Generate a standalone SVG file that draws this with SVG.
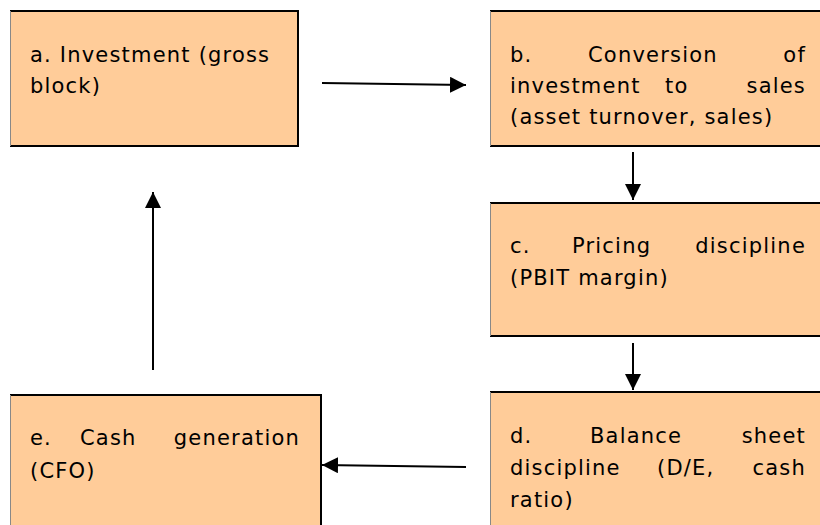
<svg xmlns="http://www.w3.org/2000/svg" width="820" height="525" viewBox="0 0 820 525">
<defs>
<marker id="ah" viewBox="0 0 10 10" refX="10" refY="5" markerWidth="8" markerHeight="8" markerUnits="strokeWidth" orient="auto" preserveAspectRatio="none">
<path d="M0,0 L10,5 L0,10 z" fill="#000"/>
</marker>
</defs>
<style>
.box{fill:#FFCC99;stroke:none}
.edge{fill:none;stroke:#000;stroke-width:2}
.ledge{fill:none;stroke:#888;stroke-width:1}
text{font-family:"DejaVu Sans","Liberation Sans",sans-serif;font-size:21px;letter-spacing:1.2px;fill:#000}
.conn line{stroke:#000;stroke-width:2;marker-end:url(#ah)}
</style>
<rect width="820" height="525" fill="#fff"/>
<g id="node-a">
<rect class="box" x="10" y="11" width="288" height="135"/>
<path class="edge" d="M10,11 H298 V146 H10"/>
<path class="ledge" d="M10.5,11 V146"/>
<text x="30" y="62">a. Investment (gross</text>
<text x="30" y="93">block)</text>
</g>
<g id="node-b">
<rect class="box" x="490" y="11" width="330" height="135"/>
<path class="edge" d="M490,11 H822 M822,146 H490"/>
<path class="ledge" d="M490.5,11 V146"/>
<text x="510" y="62">b.</text>
<text x="588" y="62">Conversion</text>
<text x="806" y="62" text-anchor="end">of</text>
<text x="510" y="93">investment</text>
<text x="665" y="93">to</text>
<text x="806" y="93" text-anchor="end">sales</text>
<text x="510" y="124">(asset turnover, sales)</text>
</g>
<g id="node-c">
<rect class="box" x="490" y="203" width="330" height="133"/>
<path class="edge" d="M490,203 H822 M822,336 H490"/>
<path class="ledge" d="M490.5,203 V336"/>
<text x="510" y="253">c.</text>
<text x="572" y="253">Pricing</text>
<text x="806" y="253" text-anchor="end">discipline</text>
<text x="510" y="285">(PBIT margin)</text>
</g>
<g id="node-d">
<rect class="box" x="490" y="392" width="330" height="135"/>
<path class="edge" d="M490,392 H822"/>
<path class="ledge" d="M490.5,392 V527"/>
<text x="510" y="443">d.</text>
<text x="590" y="443">Balance</text>
<text x="806" y="443" text-anchor="end">sheet</text>
<text x="510" y="475">discipline</text>
<text x="657" y="475">(D/E,</text>
<text x="806" y="475" text-anchor="end">cash</text>
<text x="510" y="507">ratio)</text>
</g>
<g id="node-e">
<rect class="box" x="10" y="395" width="311" height="132"/>
<path class="edge" d="M10,395 H321 V527"/>
<path class="ledge" d="M10.5,395 V527"/>
<text x="30" y="445">e.</text>
<text x="80" y="445">Cash</text>
<text x="300" y="445" text-anchor="end">generation</text>
<text x="30" y="478">(CFO)</text>
</g>
<g id="connectors" class="conn">
<line x1="322" y1="83" x2="466" y2="85"/>
<line x1="633" y1="152" x2="633" y2="200"/>
<line x1="633" y1="343" x2="633" y2="390"/>
<line x1="466" y1="467" x2="322" y2="465"/>
<line x1="153" y1="370" x2="153" y2="192"/>
</g>
</svg>
